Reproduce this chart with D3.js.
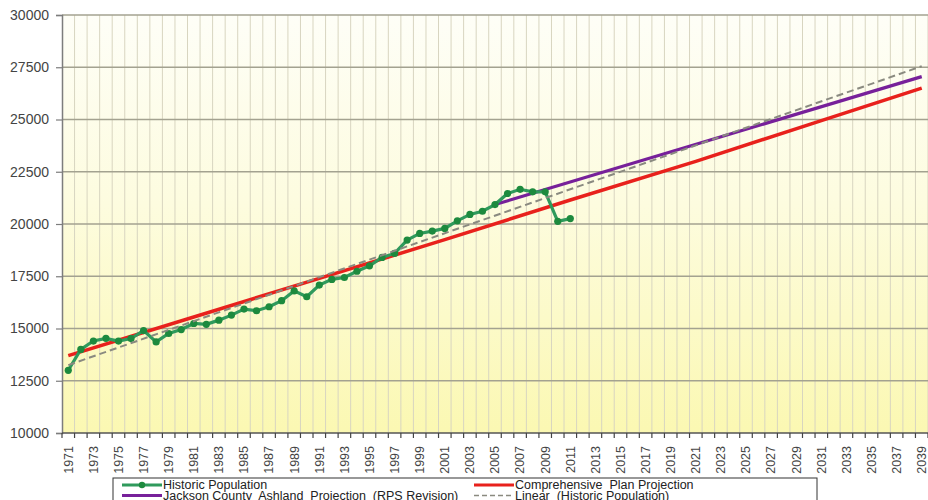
<!DOCTYPE html>
<meta charset="utf-8">
<title>Ashland population projections</title>
<style>
body { margin: 0; background: #fff; }
svg { font-family: "Liberation Sans", Arial, sans-serif; display: block; }
.yaxis text { font-size: 14px; fill: #444; }
.xaxis text { font-size: 12.5px; fill: #444; }
.legend text { font-size: 12.5px; fill: #222; }
</style>
<body>
<svg width="928" height="500"></svg>
<script src="https://d3js.org/d3.v7.min.js"></script>
<script>

// categories
var years = d3.range(1971, 2040);
var yTicks = [10000, 12500, 15000, 17500, 20000, 22500, 25000, 27500, 30000];

// Historic population, 1971 - 2011
var histYears = d3.range(1971, 2012);
var histValues = [13000, 14000, 14400, 14530, 14400, 14520, 14900, 14360, 14760, 14950,
                  15240, 15200, 15400, 15640, 15930, 15850, 16040, 16330, 16800, 16520,
                  17080, 17350, 17440, 17740, 18000, 18400, 18590, 19230, 19550, 19660,
                  19790, 20150, 20460, 20610, 20930, 21460, 21660, 21540, 21540, 20130,
                  20260];

// Comprehensive plan projection
var compYears = [1971, 1981, 1991, 2001, 2011, 2021, 2031, 2039];
var compValues = [13700, 15550, 17400, 19250, 21150, 23000, 24950, 26500];

// Jackson County Ashland projection (RPS revision)
var jcYears = [2005, 2039];
var jcValues = [20930, 27050];

// Linear trend of historic population
var trendYears = [1971, 2039];
var trendValues = [13250, 27550];

var svg = d3.select("svg");
var plotLeft = 62, plotRight = 928, plotTop = 15, plotBottom = 433;

var x = d3.scaleBand().domain(years).range([plotLeft, plotRight]).padding(0);
var y = d3.scaleLinear().domain([10000, 30000]).range([plotBottom, plotTop]);
var cx = function(yr) { return x(yr) + x.bandwidth() / 2; };

var defs = svg.append("defs");
var grad = defs.append("linearGradient").attr("id", "bg")
    .attr("x1", 0).attr("y1", 0).attr("x2", 0).attr("y2", 1);
grad.append("stop").attr("offset", "0%").attr("stop-color", "#fefef7");
grad.append("stop").attr("offset", "45%").attr("stop-color", "#fdfcdf");
grad.append("stop").attr("offset", "100%").attr("stop-color", "#fbf8b2");

svg.append("rect")
    .attr("x", plotLeft).attr("y", plotTop)
    .attr("width", plotRight - plotLeft).attr("height", plotBottom - plotTop)
    .attr("fill", "url(#bg)");

// vertical gridlines on category boundaries
svg.append("g").selectAll("line")
  .data(years.slice(1).concat([null]))
  .enter().append("line")
    .attr("x1", function(d) { return d === null ? plotRight : x(d); })
    .attr("x2", function(d) { return d === null ? plotRight : x(d); })
    .attr("y1", plotTop).attr("y2", plotBottom)
    .attr("stroke", "#d8d5c0").attr("stroke-width", 1);

// horizontal gridlines
svg.append("g").selectAll("line")
  .data(yTicks.slice(1))
  .enter().append("line")
    .attr("x1", plotLeft).attr("x2", plotRight)
    .attr("y1", function(d) { return y(d); })
    .attr("y2", function(d) { return y(d); })
    .attr("stroke", "#a3a290").attr("stroke-width", 1.6);

// y axis
var yAxis = svg.append("g").attr("class", "yaxis")
    .attr("transform", "translate(" + plotLeft + ",0)")
    .call(d3.axisLeft(y).tickValues(yTicks).tickSize(6).tickPadding(7).tickFormat(d3.format("d")));
yAxis.select(".domain").attr("stroke", "#7d7d7d").attr("stroke-width", 1.5);
yAxis.selectAll(".tick line").attr("stroke", "#7d7d7d").attr("stroke-width", 1.2);

// x axis: labels every other year, ticks on every boundary
var xAxis = svg.append("g").attr("class", "xaxis")
    .attr("transform", "translate(0," + plotBottom + ")")
    .call(d3.axisBottom(x).tickValues(years.filter(function(d) { return d % 2 === 1; })).tickSize(0));
xAxis.select(".domain").attr("d", "M" + plotLeft + ",0H" + plotRight).attr("stroke", "#555").attr("stroke-width", 1.5);
xAxis.selectAll(".tick text")
    .attr("transform", "rotate(-90)")
    .attr("text-anchor", "end")
    .attr("x", -13).attr("y", 0).attr("dy", "0.35em");
xAxis.append("g").selectAll("line")
  .data(years.concat([null]))
  .enter().append("line")
    .attr("x1", function(d) { return d === null ? plotRight : x(d); })
    .attr("x2", function(d) { return d === null ? plotRight : x(d); })
    .attr("y1", 0).attr("y2", 5)
    .attr("stroke", "#444").attr("stroke-width", 1.2);

var line = d3.line()
    .x(function(d) { return cx(d[0]); })
    .y(function(d) { return y(d[1]); });

var plot = svg.append("g");

plot.append("path")
    .datum(d3.zip(compYears, compValues))
    .attr("d", line).attr("fill", "none")
    .attr("stroke", "#e8211c").attr("stroke-width", 3.5);

plot.append("path")
    .datum(d3.zip(jcYears, jcValues))
    .attr("d", line).attr("fill", "none")
    .attr("stroke", "#77209a").attr("stroke-width", 3.2);

plot.append("path")
    .datum(d3.zip(histYears, histValues))
    .attr("d", line).attr("fill", "none")
    .attr("stroke", "#2f9a5c").attr("stroke-width", 3.2);

plot.append("g").selectAll("circle")
  .data(d3.zip(histYears, histValues))
  .enter().append("circle")
    .attr("cx", function(d) { return cx(d[0]); })
    .attr("cy", function(d) { return y(d[1]); })
    .attr("r", 3.6)
    .attr("fill", "#1d8a3e");

plot.append("path")
    .datum(d3.zip(trendYears, trendValues))
    .attr("d", line).attr("fill", "none")
    .attr("stroke", "#8a8a80").attr("stroke-width", 2)
    .attr("stroke-dasharray", "7,4");

// legend
var legend = svg.append("g").attr("class", "legend");
legend.append("rect")
    .attr("x", 113).attr("y", 478).attr("width", 704).attr("height", 40)
    .attr("fill", "#fff").attr("stroke", "#333").attr("stroke-width", 1);

var items = [
  { label: "Historic Population", color: "#2f9a5c", x: 122, y: 485, marker: true },
  { label: "Comprehensive  Plan Projection", color: "#e8211c", x: 474, y: 485 },
  { label: "Jackson County  Ashland  Projection  (RPS Revision)", color: "#77209a", x: 122, y: 495.5 },
  { label: "Linear  (Historic Population)", color: "#8a8a80", x: 474, y: 495.5, dash: true }
];

var item = legend.selectAll("g.item").data(items).enter().append("g").attr("class", "item");
item.append("line")
    .attr("x1", function(d) { return d.x; })
    .attr("x2", function(d) { return d.x + 40; })
    .attr("y1", function(d) { return d.y; })
    .attr("y2", function(d) { return d.y; })
    .attr("stroke", function(d) { return d.color; })
    .attr("stroke-width", function(d) { return d.dash ? 1.5 : 3.2; })
    .attr("stroke-dasharray", function(d) { return d.dash ? "5,3" : null; });
item.filter(function(d) { return d.marker; }).append("circle")
    .attr("cx", function(d) { return d.x + 20; })
    .attr("cy", function(d) { return d.y; })
    .attr("r", 3.2).attr("fill", "#1d8a3e");
item.append("text")
    .attr("x", function(d) { return d.x + 41; })
    .attr("y", function(d) { return d.y; })
    .attr("dy", "0.35em")
    .style("white-space", "pre")
    .attr("xml:space", "preserve")
    .text(function(d) { return d.label; });

</script>
</body>
